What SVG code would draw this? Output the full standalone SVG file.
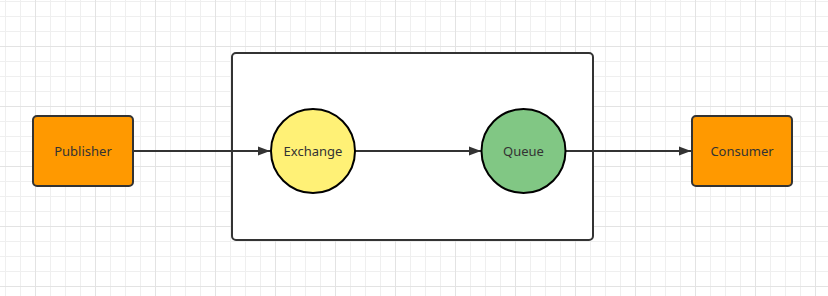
<svg xmlns="http://www.w3.org/2000/svg" width="828" height="296" viewBox="0 0 828 296">
<defs>
<pattern id="minor" width="15" height="15" patternUnits="userSpaceOnUse" x="5" y="1">
<path d="M0 0.5H15M0.5 0V15" fill="none" stroke="#efefef" stroke-width="1"/>
</pattern>
<pattern id="major" width="60" height="60" patternUnits="userSpaceOnUse" x="35" y="46">
<path d="M0 0.5H60M0.5 0V60" fill="none" stroke="#e3e3e3" stroke-width="1"/>
</pattern>
<marker id="arrow" markerWidth="12" markerHeight="10" refX="12" refY="5" orient="auto" markerUnits="userSpaceOnUse">
<path d="M0 0.5L12 5L0 9.5z" fill="#333"/>
</marker>
</defs>
<style>
.box{fill:#ff9900;stroke:#333;stroke-width:2}
.lbl{font-family:"Noto Sans","Open Sans",sans-serif;font-size:13px;fill:#333;text-anchor:middle;dominant-baseline:central}
.edge{stroke:#333;stroke-width:2;fill:none;marker-end:url(#arrow)}
</style>
<rect width="828" height="296" fill="#fff"/>
<rect width="828" height="296" fill="url(#minor)"/>
<rect width="828" height="296" fill="url(#major)"/>
<g id="container"><rect x="232" y="53" width="361" height="187" rx="4" fill="#fff" stroke="#333" stroke-width="2"/></g>
<g id="connectors">
<path class="edge" d="M133 151H270"/>
<path class="edge" d="M355 151H481"/>
<path class="edge" d="M566 151H691"/>
</g>
<g id="publisher"><rect class="box" x="33" y="116" width="100" height="70" rx="4"/><text class="lbl" x="83" y="151">Publisher</text></g>
<g id="exchange"><circle cx="313" cy="151" r="42" fill="#fff176" stroke="#000" stroke-width="2"/><text class="lbl" x="313" y="151">Exchange</text></g>
<g id="queue"><circle cx="523.5" cy="151" r="42" fill="#81c784" stroke="#000" stroke-width="2"/><text class="lbl" x="523.5" y="151">Queue</text></g>
<g id="consumer"><rect class="box" x="692" y="116" width="100" height="70" rx="4"/><text class="lbl" x="742" y="151">Consumer</text></g>
</svg>
